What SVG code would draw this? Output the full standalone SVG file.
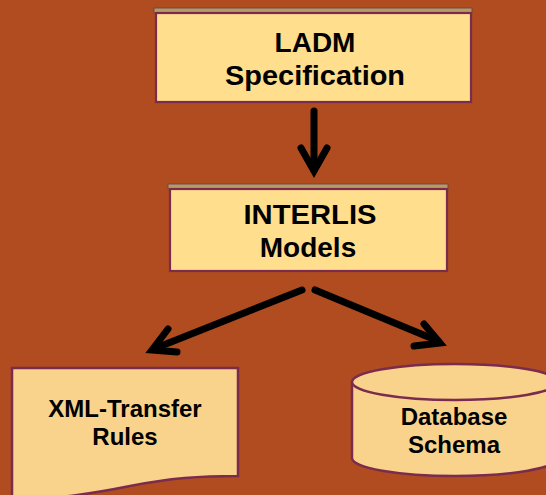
<svg xmlns="http://www.w3.org/2000/svg" width="546" height="495" viewBox="0 0 546 495">
  <style>
    .bar { fill: #B89A68; stroke: #6E4A3A; stroke-width: 1; }
    .box { fill: #FFDE8E; stroke: #7A2B4E; stroke-width: 2.2; }
    .shape { fill: #F9D38B; stroke: #7A2B4E; stroke-width: 2.5; }
    .big { font-family: "Liberation Sans", Arial, sans-serif; font-weight: bold; font-size: 28px; fill: #000; text-anchor: middle; }
    .small { font-family: "Liberation Sans", Arial, sans-serif; font-weight: bold; font-size: 24px; fill: #000; text-anchor: middle; }
    .arrow { fill: none; stroke: #000; stroke-width: 7; stroke-linecap: round; stroke-linejoin: miter; }
  </style>
  <rect x="0" y="0" width="546" height="495" fill="#B04C1F"/>

  <g id="ladm">
    <rect class="bar" x="154" y="8" width="318" height="5"/>
    <rect class="box" x="156" y="13" width="315" height="89"/>
    <text class="big" x="315" y="52">LADM</text>
    <text class="big" x="315" y="85" textLength="180" lengthAdjust="spacingAndGlyphs">Specification</text>
  </g>

  <g id="interlis">
    <rect class="bar" x="168" y="184" width="280" height="5"/>
    <rect class="box" x="170" y="189" width="277" height="82"/>
    <text class="big" x="310" y="224" textLength="133" lengthAdjust="spacingAndGlyphs">INTERLIS</text>
    <text class="big" x="308" y="257">Models</text>
  </g>

  <g id="xml-transfer">
    <path class="shape" d="M12,368 H238 V476 C200,476 170,478 130,486 C95,493 55,500 12,498 Z"/>
    <text class="small" x="125" y="417">XML-Transfer</text>
    <text class="small" x="125" y="445">Rules</text>
  </g>

  <g id="database">
    <path class="shape" d="M352,382 A103,18 0 0 1 558,382 V458 A103,18 0 0 1 352,458 Z"/>
    <path class="shape" fill="none" d="M352,382 A103,18 0 0 0 558,382"/>
    <text class="small" x="454" y="425">Database</text>
    <text class="small" x="454" y="453">Schema</text>
  </g>

  <g id="connectors">
    <line class="arrow" x1="314" y1="111" x2="314" y2="170"/>
    <polyline class="arrow" points="301,148 314,171 327,148"/>
    <line class="arrow" x1="302" y1="290" x2="156" y2="348"/>
    <polyline class="arrow" points="168,329 152,350 177,352"/>
    <line class="arrow" x1="315" y1="290" x2="438" y2="341"/>
    <polyline class="arrow" points="424,324 440,343 414,346"/>
  </g>
</svg>
